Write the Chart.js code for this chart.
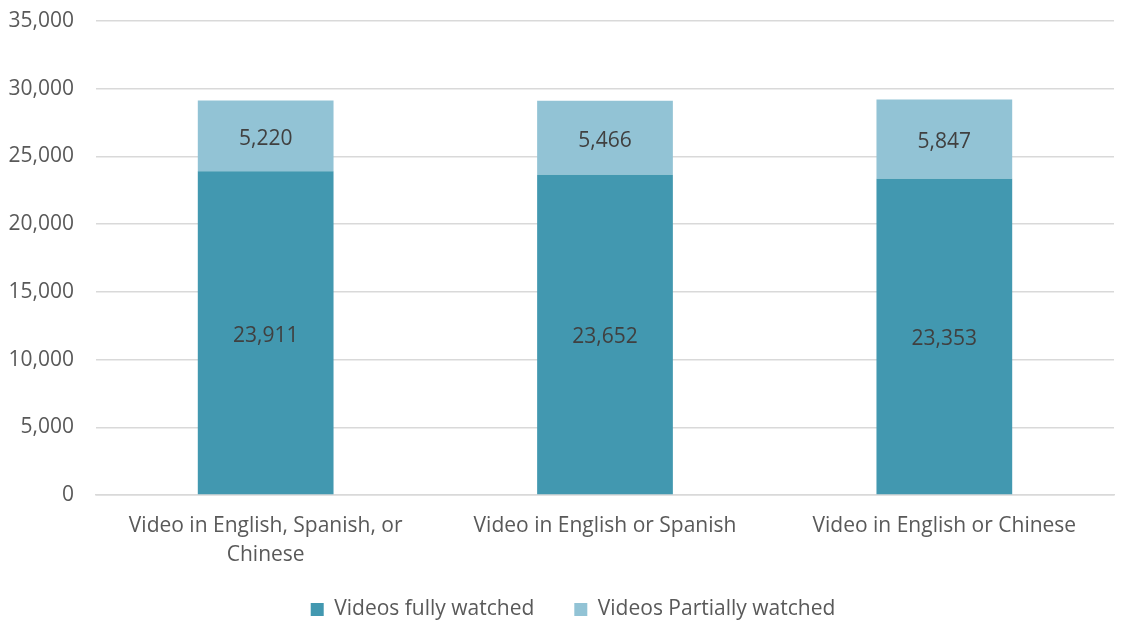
<!DOCTYPE html>
<html>
<head>
<meta charset="utf-8">
<script src="https://cdn.jsdelivr.net/npm/chart.js@4/dist/chart.umd.min.js"></script>
<style>
html,body{margin:0;padding:0;background:#fff;}
#wrap{width:1140px;height:643px;position:relative;}
</style>
</head>
<body>
<div id="wrap"><canvas id="c" width="1140" height="643"></canvas></div>
<script>
const categories = [["Video in English, Spanish, or","Chinese"], "Video in English or Spanish", "Video in English or Chinese"];
const fullyWatched = [23911, 23652, 23353];
const partiallyWatched = [5220, 5466, 5847];
const seriesNames = ["Videos fully watched", "Videos Partially watched"];
const yTicks = [0, 5000, 10000, 15000, 20000, 25000, 30000, 35000];

const FONT = "'Open Sans', sans-serif";
const fmt = v => v.toLocaleString('en-US');

const labelPlugin = {
  id: 'barLabels',
  afterLayout(chart) {
    if (chart.legend) { chart.legend.left += 16; chart.legend.right += 16; }
    const x = chart.scales.x;
    if (x) { x.bottom += 30; x.height += 30; }
  },
  afterDatasetsDraw(chart) {
    const ctx = chart.ctx;
    ctx.save();
    ctx.font = "21px " + FONT;
    ctx.fillStyle = '#404040';
    ctx.textAlign = 'center';
    ctx.textBaseline = 'middle';
    chart.data.datasets.forEach((ds, i) => {
      const meta = chart.getDatasetMeta(i);
      meta.data.forEach((bar, j) => {
        const p = bar.getProps(['x','y','base'], true);
        ctx.fillText(fmt(ds.data[j]), p.x, (p.y + p.base) / 2 + 3);
      });
    });
    ctx.restore();
  }
};

new Chart(document.getElementById('c'), {
  type: 'bar',
  data: {
    labels: categories,
    datasets: [
      { label: seriesNames[0], data: fullyWatched, backgroundColor: '#4298B0', borderWidth: 0, categoryPercentage: 1, barPercentage: 0.4 },
      { label: seriesNames[1], data: partiallyWatched, backgroundColor: '#92C3D5', borderWidth: 0, categoryPercentage: 1, barPercentage: 0.4 }
    ]
  },
  options: {
    responsive: false,
    animation: false,
    layout: { padding: { top: 21, left: 0, right: 26, bottom: 13 } },
    plugins: {
      tooltip: { enabled: false },
      legend: {
        position: 'bottom',
        labels: {
          font: { family: FONT, size: 21 },
          color: '#595959',
          boxWidth: 13, boxHeight: 13,
          padding: 40
        }
      }
    },
    scales: {
      x: {
        stacked: true,
        grid: { display: false, drawTicks: false },
        border: { display: true, color: '#d9d9d9', width: 1.5 },
        ticks: { font: { family: FONT, size: 21, lineHeight: 1.38 }, color: '#595959', padding: 17, maxRotation: 0, autoSkip: false },
        afterFit(scale) { scale.height = 64; }
      },
      y: {
        stacked: true,
        min: 0, max: 35000,
        afterBuildTicks(scale) { scale.ticks = yTicks.map(v => ({ value: v })); },
        grid: { color: '#d9d9d9', lineWidth: 1.5, drawTicks: false },
        border: { display: false },
        ticks: { font: { family: FONT, size: 21 }, color: '#595959', padding: 22, callback: v => fmt(v) },
        afterFit(scale) { scale.width = 96; scale.paddingTop = 13; scale.paddingBottom = 13; }
      }
    }
  },
  plugins: [labelPlugin]
});
</script>
</body>
</html>
